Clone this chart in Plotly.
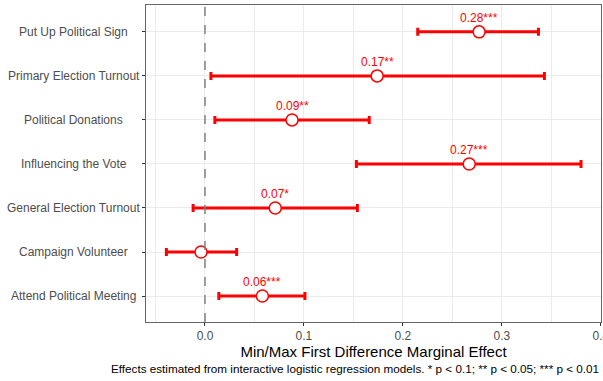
import plotly.graph_objects as go

# Outcomes, bottom to top on the y axis
outcomes = [
    "Attend Political Meeting",
    "Campaign Volunteer",
    "General Election Turnout",
    "Influencing the Vote",
    "Political Donations",
    "Primary Election Turnout",
    "Put Up Political Sign",
]
effect = [0.058, -0.004, 0.071, 0.267, 0.088, 0.174, 0.277]
ci_low = [0.014, -0.039, -0.012, 0.153, 0.010, 0.006, 0.215]
ci_high = [0.101, 0.032, 0.154, 0.380, 0.166, 0.343, 0.337]
labels = ["0.06***", "", "0.07*", "0.27***", "0.09**", "0.17**", "0.28***"]

x_ticks = [0.0, 0.1, 0.2, 0.3, 0.4]
x_tick_text = ["0.0", "0.1", "0.2", "0.3", "0.4"]

RED = "#ff0000"
FONT = "Liberation Sans, Arial, sans-serif"

ypos = list(range(1, len(outcomes) + 1))

fig = go.Figure()

# confidence intervals with caps
fig.add_trace(go.Scatter(
    x=effect, y=ypos, mode="markers",
    marker=dict(size=0.1, color="rgba(0,0,0,0)"),
    error_x=dict(
        type="data", symmetric=False,
        array=[h - e for h, e in zip(ci_high, effect)],
        arrayminus=[e - l for e, l in zip(effect, ci_low)],
        color=RED, thickness=3, width=4,
    ),
    hoverinfo="skip", showlegend=False,
))

# point estimates
fig.add_trace(go.Scatter(
    x=effect, y=ypos, mode="markers",
    marker=dict(size=12, color="white", line=dict(color=RED, width=1.5)),
    showlegend=False,
))

# value labels above points
for xv, yv, lab in zip(effect, ypos, labels):
    if lab:
        fig.add_annotation(x=xv, y=yv, xref="x", yref="y", text=lab,
                           showarrow=False, xanchor="center", yanchor="middle",
                           yshift=14, font=dict(color=RED, size=12, family=FONT))

# reference line at zero
fig.add_shape(type="line", x0=0, x1=0, xref="x", y0=0, y1=1, yref="paper",
              line=dict(color="#808080", width=1.5, dash="dash"), layer="above")

# category labels, centred in the left margin
for yv, name in zip(ypos, outcomes):
    fig.add_annotation(x=-0.159, xref="paper", y=yv, yref="y", text=name,
                       showarrow=False, xanchor="center", yanchor="middle",
                       font=dict(size=12, color="#4d4d4d", family=FONT))

fig.add_annotation(
    x=1.0, xref="paper", y=-0.148, yref="paper",
    text="Effects estimated from interactive logistic regression models. * p < 0.1; ** p < 0.05; *** p < 0.01",
    showarrow=False, xanchor="right", yanchor="middle",
    font=dict(size=11.7, color="black", family=FONT),
)

fig.update_layout(
    width=603, height=381,
    margin=dict(l=146, r=2, t=5, b=59, autoexpand=False),
    paper_bgcolor="white", plot_bgcolor="white",
    font=dict(family=FONT),
    xaxis=dict(
        range=[-0.0596, 0.4002], tickvals=x_ticks, ticktext=x_tick_text,
        tickfont=dict(size=12, color="#4d4d4d"),
        ticklabeloverflow="allow", automargin=False,
        ticks="outside", ticklen=3, tickcolor="#333333",
        showgrid=True, gridcolor="#ebebeb", gridwidth=1,
        minor=dict(dtick=0.05, tick0=0.05, showgrid=True, gridcolor="#ebebeb", gridwidth=1),
        zeroline=False,
        showline=True, linecolor="#666666", linewidth=1, mirror=True,
        title=dict(text="Min/Max First Difference Marginal Effect",
                   font=dict(size=15, color="black"), standoff=1),
    ),
    yaxis=dict(
        range=[0.41, 7.61], tickvals=ypos, ticktext=[""] * len(ypos),
        automargin=False,
        ticks="outside", ticklen=3, tickcolor="#333333",
        showgrid=True, gridcolor="#ebebeb", gridwidth=1,
        zeroline=False,
        showline=True, linecolor="#666666", linewidth=1, mirror=True,
    ),
)

fig.write_html("out.html")
